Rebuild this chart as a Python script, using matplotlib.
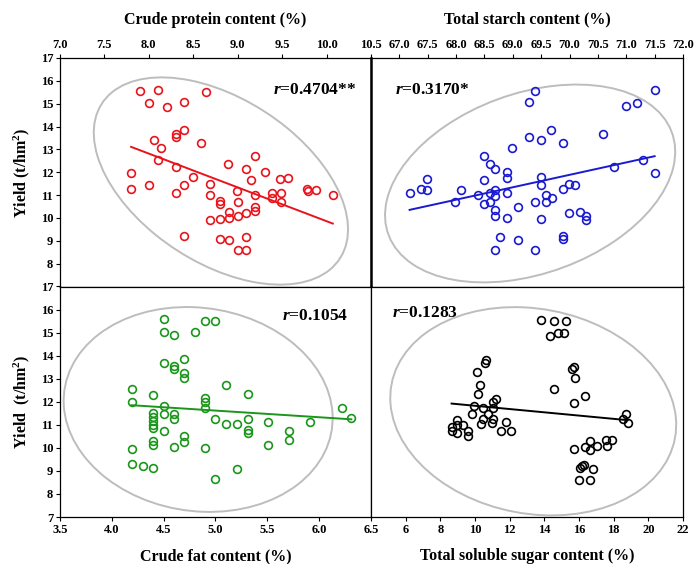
import numpy as np
import matplotlib
matplotlib.use("Agg")
import matplotlib.pyplot as plt
from matplotlib.patches import Ellipse
import matplotlib.transforms as transforms

plt.rcParams['font.family'] = 'serif'
plt.rcParams['font.serif'] = ['Liberation Serif', 'DejaVu Serif']
plt.rcParams['font.weight'] = 'bold'
plt.rcParams['mathtext.fontset'] = 'custom'
plt.rcParams['mathtext.rm'] = 'Liberation Serif:bold'
plt.rcParams['mathtext.bf'] = 'Liberation Serif:bold'
plt.rcParams['mathtext.it'] = 'Liberation Serif:italic:bold'

# crude protein (%) vs yield
protein_x = [7.90, 8.10, 8.64, 8.00, 8.20, 8.40, 8.40, 8.30, 8.31, 8.06, 8.59, 8.14, 9.19, 8.10,
             8.89, 9.09, 8.30, 9.31, 7.80, 8.50, 9.15, 9.48, 9.57, 8.00, 8.40, 8.69, 7.80, 8.99,
             9.78, 9.79, 9.88, 10.07, 8.30, 8.69, 9.19, 9.39, 9.49, 9.39, 9.49, 8.80, 8.80, 9.00,
             9.19, 9.19, 9.09, 8.90, 8.90, 9.00, 8.80, 8.69, 8.40, 8.80, 8.90, 9.09, 9.00, 9.09]
protein_y = [15.54, 15.58, 15.52, 15.03, 14.87, 15.06, 13.83, 13.68, 13.54, 13.42, 13.30, 13.05, 12.72, 12.54,
             12.34, 12.15, 12.25, 12.01, 11.96, 11.81, 11.65, 11.71, 11.74, 11.44, 11.43, 11.47, 11.25, 11.20,
             11.25, 11.20, 11.21, 11.02, 11.11, 11.01, 10.99, 11.09, 11.09, 10.87, 10.70, 10.74, 10.61, 10.68,
             10.46, 10.32, 10.23, 10.27, 10.01, 10.08, 9.95, 9.89, 9.22, 9.08, 9.03, 9.15, 8.59, 8.59]

# total starch (%) vs yield
starch_x = [69.39, 69.29, 71.50, 70.99, 71.19, 69.68, 69.29, 69.49, 69.88, 70.59, 68.99, 68.49, 68.59, 68.69,
            68.89, 68.89, 67.49, 68.49, 69.49, 70.79, 71.29, 71.50, 67.18, 67.38, 67.49, 68.09, 67.98, 68.39,
            68.49, 68.59, 68.59, 68.69, 68.69, 68.89, 69.49, 69.89, 69.99, 70.09, 69.59, 69.59, 69.69, 69.39,
            69.09, 68.69, 68.69, 68.89, 69.49, 69.99, 70.19, 70.29, 70.29, 68.78, 69.09, 69.89, 69.89, 68.69, 69.39]
starch_y = [15.54, 15.06, 15.60, 14.88, 15.03, 13.84, 13.56, 13.42, 13.30, 13.68, 13.05, 12.72, 12.35, 12.15,
            12.03, 11.75, 11.72, 11.65, 11.81, 12.25, 12.54, 11.96, 11.09, 11.27, 11.21, 11.21, 10.68, 11.01,
            10.63, 11.08, 10.71, 11.23, 10.98, 11.11, 11.44, 11.27, 11.49, 11.44, 11.01, 10.68, 10.86, 10.71,
            10.46, 10.35, 10.08, 10.01, 9.95, 10.23, 10.27, 10.08, 9.89, 9.15, 9.03, 9.22, 9.08, 8.59, 8.61]

# crude fat (%) vs yield
fat_x = [4.50, 4.90, 5.00, 4.50, 4.60, 4.80, 4.70, 4.50, 4.60, 4.60, 4.70, 4.70, 5.10, 4.19,
         5.31, 4.40, 4.90, 4.19, 4.90, 4.50, 4.90, 6.22, 4.40, 4.50, 4.60, 4.40, 4.40, 4.60,
         4.40, 5.00, 5.31, 6.31, 5.10, 5.21, 5.51, 5.91, 4.40, 4.50, 5.31, 5.31, 5.71, 5.71,
         4.70, 4.70, 4.40, 4.40, 4.60, 4.90, 5.51, 4.19, 4.19, 4.30, 4.40, 5.21, 5.00]
fat_y = [15.58, 15.51, 15.52, 15.03, 14.88, 15.04, 13.84, 13.70, 13.55, 13.41, 13.26, 13.04, 12.72, 12.57,
         12.35, 12.28, 12.16, 11.99, 11.99, 11.81, 11.75, 11.72, 11.52, 11.45, 11.48, 11.33, 11.16, 11.23,
         10.99, 11.23, 11.23, 11.30, 11.03, 11.04, 11.13, 11.12, 10.84, 10.72, 10.77, 10.65, 10.71, 10.35,
         10.51, 10.25, 10.29, 10.12, 10.04, 9.99, 10.12, 9.93, 9.28, 9.20, 9.12, 9.09, 8.64]

# total soluble sugar (%) vs yield
sugar_x = [13.78, 14.58, 15.23, 14.81, 15.14, 14.35, 10.64, 10.60, 10.09, 15.73, 15.62, 15.77, 10.30, 10.18,
           14.58, 16.34, 15.71, 11.23, 11.02, 9.95, 10.49, 11.02, 9.80, 10.76, 10.49, 11.02, 10.37, 10.99,
           11.81, 8.98, 8.65, 8.98, 9.30, 8.69, 8.94, 9.57, 9.57, 11.50, 12.06, 18.53, 18.72, 18.81,
           16.65, 16.34, 16.65, 17.03, 17.57, 17.88, 17.61, 15.71, 16.31, 16.08, 16.18, 16.80, 15.98, 16.61]
sugar_y = [15.55, 15.49, 15.49, 15.00, 15.00, 14.86, 13.83, 13.67, 13.28, 13.52, 13.41, 13.03, 12.71, 12.32,
           12.54, 12.25, 11.96, 12.14, 12.01, 11.81, 11.72, 11.72, 11.45, 11.48, 11.26, 11.23, 11.03, 11.09,
           11.12, 11.20, 10.91, 10.99, 10.99, 10.72, 10.64, 10.72, 10.51, 10.71, 10.71, 11.26, 11.45, 11.09,
           10.28, 10.03, 9.90, 10.10, 10.36, 10.33, 10.10, 9.97, 9.26, 9.13, 9.20, 9.10, 8.62, 8.62]

r_labels = ['0.4704**', '0.3170*', '0.1054', '0.1283']


def conf_ellipse(ax, x, y, n_std=2.56):
    # 95% prediction ellipse from the sample covariance
    x = np.asarray(x)
    y = np.asarray(y)
    cov = np.cov(x, y)
    pearson = cov[0, 1] / np.sqrt(cov[0, 0] * cov[1, 1])
    e = Ellipse((0, 0), width=2 * np.sqrt(1 + pearson), height=2 * np.sqrt(1 - pearson),
                facecolor='none', edgecolor='#bdbdbd', lw=1.4, zorder=1)
    tr = transforms.Affine2D().rotate_deg(45) \
        .scale(np.sqrt(cov[0, 0]) * n_std, np.sqrt(cov[1, 1]) * n_std) \
        .translate(x.mean(), y.mean())
    e.set_transform(tr + ax.transData)
    ax.add_patch(e)


def panel(ax, x, y, color, rtxt, rpos):
    conf_ellipse(ax, x, y)
    ax.plot(x, y, 'o', mfc='none', mec=color, ms=5.6, mew=1.2, zorder=3)
    a, b = np.polyfit(x, y, 1)
    xx = np.array([min(x), max(x)])
    ax.plot(xx, a * xx + b, color=color, lw=1.4, zorder=2)
    ax.text(rpos[0], rpos[1], '$r$=' + rtxt, transform=ax.transAxes, fontsize=12.5,
            fontweight='bold', va='center', ha='left')
    ax.set_ylim(7, 17)
    ax.tick_params(direction='out', length=3, width=0.8, labelsize=9, pad=2)
    for s in ax.spines.values():
        s.set_linewidth(0.9)


fig = plt.figure(figsize=(6.95, 5.64), dpi=100)
L, M, R = 60 / 695, 371 / 695, 683 / 695
T, C, B = 1 - 58 / 564, 1 - 286.5 / 564, 1 - 517 / 564

ax1 = fig.add_axes([L, C, M - L, T - C])
ax2 = fig.add_axes([M, C, R - M, T - C])
ax3 = fig.add_axes([L, B, M - L, C - B])
ax4 = fig.add_axes([M, B, R - M, C - B])

panel(ax1, protein_x, protein_y, '#e8141c', r_labels[0], (0.685, 0.86))
panel(ax2, starch_x, starch_y, '#1a1ad0', r_labels[1], (0.077, 0.86))
panel(ax3, fat_x, fat_y, '#1a961a', r_labels[2], (0.714, 0.874))
panel(ax4, sugar_x, sugar_y, 'black', r_labels[3], (0.067, 0.887))

for ax in (ax1, ax2):
    ax.xaxis.tick_top()
    ax.xaxis.set_label_position('top')

ax1.set_xlim(7.0, 10.5)
ax1.set_xticks(np.arange(7.0, 10.51, 0.5))
ax1.set_xticklabels(['%.1f' % v for v in np.arange(7.0, 10.51, 0.5)])
ax2.set_xlim(66.5, 72.0)
ax2.set_xticks(np.arange(67.0, 72.01, 0.5))
ax2.set_xticklabels(['%.1f' % v for v in np.arange(67.0, 72.01, 0.5)])
ax3.set_xlim(3.5, 6.5)
ax3.set_xticks(np.arange(3.5, 6.51, 0.5))
ax3.set_xticklabels(['%.1f' % v for v in np.arange(3.5, 6.51, 0.5)])
ax4.set_xlim(4, 22)
ax4.set_xticks(np.arange(6, 23, 2))

ax1.set_yticks(np.arange(8, 18, 1))
ax3.set_yticks(np.arange(7, 18, 1))
for ax in (ax2, ax4):
    ax.set_yticks([])
ax2.spines['left'].set_linewidth(1.8)

ax1.set_xlabel('Crude protein content (%)', fontsize=11.5, fontweight='bold', labelpad=11)
ax2.set_xlabel('Total starch content (%)', fontsize=11.5, fontweight='bold', labelpad=11)
ax3.set_xlabel('Crude fat content (%)', fontsize=11.5, fontweight='bold', labelpad=9)
ax4.set_xlabel('Total soluble sugar content (%)', fontsize=11.5, fontweight='bold', labelpad=9)
ax1.set_ylabel('Yield (t/hm$^2$)', fontsize=11.5, fontweight='bold', labelpad=6)
ax3.set_ylabel('Yield  (t/hm$^2$)', fontsize=11.5, fontweight='bold', labelpad=6)

fig.savefig('out.png', dpi=100)
